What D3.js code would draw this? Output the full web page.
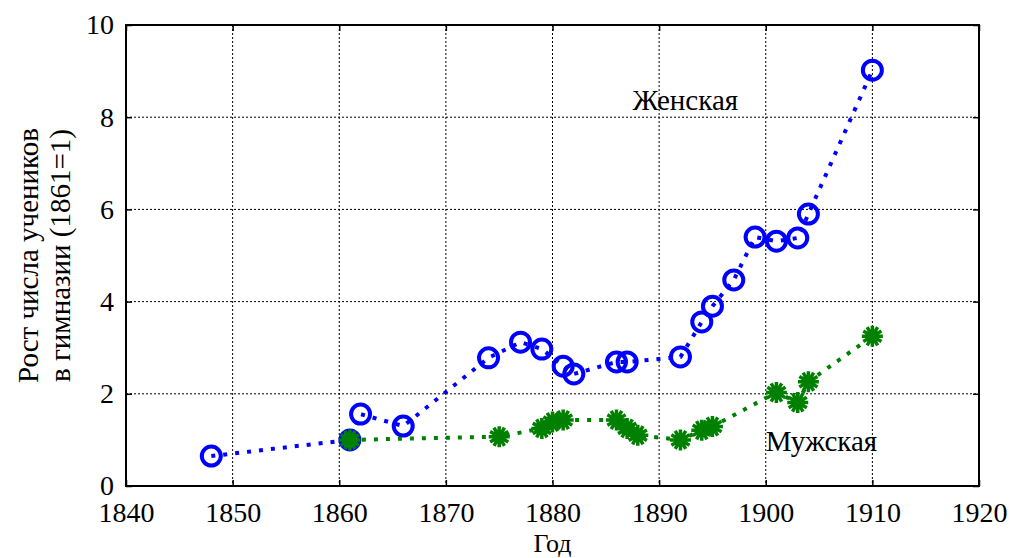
<!DOCTYPE html>
<html>
<head>
<meta charset="utf-8">
<script src="https://cdn.jsdelivr.net/npm/d3@7"></script>
<style>
  body { margin: 0; background: #fff; }
</style>
</head>
<body>
<svg id="chart" width="1011" height="558"></svg>
<script>
// Female gymnasium enrolment growth (1861 = 1)
const femaleYears  = [1848, 1861, 1862, 1866, 1874, 1877, 1879, 1881, 1882, 1886, 1887, 1892, 1894, 1895, 1897, 1899, 1901, 1903, 1904, 1910];
const femaleValues = [0.65, 1.0, 1.56, 1.3, 2.78, 3.12, 2.97, 2.6, 2.43, 2.69, 2.69, 2.8, 3.56, 3.9, 4.47, 5.4, 5.31, 5.38, 5.9, 9.02];

// Male gymnasium enrolment growth (1861 = 1)
const maleYears  = [1861, 1875, 1879, 1880, 1881, 1886, 1887, 1888, 1892, 1894, 1895, 1901, 1903, 1904, 1910];
const maleValues = [1.0, 1.07, 1.25, 1.39, 1.43, 1.43, 1.25, 1.1, 1.0, 1.21, 1.29, 2.03, 1.81, 2.26, 3.25];

const xTicks = [1840, 1850, 1860, 1870, 1880, 1890, 1900, 1910, 1920];
const yTicks = [0, 2, 4, 6, 8, 10];

const svg = d3.select("#chart");
const pL = 126, pR = 979, pT = 25, pB = 486;
const serif = "Liberation Serif, Times New Roman, DejaVu Serif, serif";

const x = d3.scaleLinear().domain([1840, 1920]).range([pL, pR]);
const y = d3.scaleLinear().domain([0, 10]).range([pB, pT]);

// grid
const grid = svg.append("g").attr("stroke", "#000").attr("stroke-width", 1).attr("stroke-dasharray", "2,2");
grid.selectAll(".gx").data(xTicks.slice(1, -1)).join("line")
  .attr("x1", d => x(d)).attr("x2", d => x(d)).attr("y1", pT).attr("y2", pB);
grid.selectAll(".gy").data(yTicks.slice(1, -1)).join("line")
  .attr("x1", pL).attr("x2", pR).attr("y1", d => y(d)).attr("y2", d => y(d));

// axes with inward ticks
const fs = "28px";
const axB = svg.append("g").attr("transform", `translate(0,${pB})`)
  .call(d3.axisBottom(x).tickValues(xTicks).tickFormat(d3.format("d")).tickSizeInner(-6).tickSizeOuter(0).tickPadding(16));
const axT = svg.append("g").attr("transform", `translate(0,${pT})`)
  .call(d3.axisTop(x).tickValues(xTicks).tickFormat("").tickSizeInner(-6).tickSizeOuter(0));
const axL = svg.append("g").attr("transform", `translate(${pL},0)`)
  .call(d3.axisLeft(y).tickValues(yTicks).tickFormat(d3.format("d")).tickSizeInner(-6).tickSizeOuter(0).tickPadding(12));
const axR = svg.append("g").attr("transform", `translate(${pR},0)`)
  .call(d3.axisRight(y).tickValues(yTicks).tickFormat("").tickSizeInner(-6).tickSizeOuter(0));
[axB, axT, axL, axR].forEach(a => {
  a.attr("font-family", null);
  a.select(".domain").remove();
  a.selectAll(".tick line").attr("stroke", "#000").attr("stroke-width", 1.5);
  a.selectAll("text").attr("font-size", fs).attr("fill", "#000").style("font-family", serif);
});

// frame
svg.append("rect").attr("x", pL).attr("y", pT).attr("width", pR - pL).attr("height", pB - pT)
  .attr("fill", "none").attr("stroke", "#000").attr("stroke-width", 2);

const line = d3.line().x(d => x(d[0])).y(d => y(d[1]));
const female = femaleYears.map((yr, i) => [yr, femaleValues[i]]);
const male = maleYears.map((yr, i) => [yr, maleValues[i]]);

// female series: dotted line with open circles
svg.append("path").datum(female).attr("d", line).attr("fill", "none")
  .attr("stroke", "#0000ff").attr("stroke-width", 4).attr("stroke-dasharray", "4,8");
svg.append("g").selectAll("circle").data(female).join("circle")
  .attr("cx", d => x(d[0])).attr("cy", d => y(d[1])).attr("r", 9.5)
  .attr("fill", "none").attr("stroke", "#0000ff").attr("stroke-width", 4);

// male series: dotted line with asterisks
svg.append("path").datum(male).attr("d", line).attr("fill", "none")
  .attr("stroke", "#008000").attr("stroke-width", 4).attr("stroke-dasharray", "4,8");
const r = 10.5;
const star = [];
for (let k = 0; k < 6; k++) {
  const a = Math.PI * k / 6;
  star.push(`M${-r * Math.cos(a)},${-r * Math.sin(a)}L${r * Math.cos(a)},${r * Math.sin(a)}`);
}
svg.append("g").selectAll("path").data(male).join("path")
  .attr("transform", d => `translate(${x(d[0])},${y(d[1])})`)
  .attr("d", star.join(""))
  .attr("stroke", "#008000").attr("stroke-width", 3.5).attr("fill", "none");
svg.append("g").selectAll("circle").data(male).join("circle")
  .attr("cx", d => x(d[0])).attr("cy", d => y(d[1])).attr("r", 5.5).attr("fill", "#008000");

// series labels
svg.append("text").attr("x", x(1887.5)).attr("y", y(8.15)).attr("font-size", "29px").style("font-family", serif).text("Женская");
svg.append("text").attr("x", x(1900)).attr("y", y(0.75)).attr("font-size", "29px").style("font-family", serif).text("Мужская");

// axis titles
svg.append("text").attr("x", (pL + pR) / 2).attr("y", 552).attr("text-anchor", "middle")
  .attr("font-size", "26px").style("font-family", serif).text("Год");
const yl = svg.append("text").attr("transform", `translate(0,${(pT + pB) / 2}) rotate(-90)`)
  .attr("text-anchor", "middle").attr("font-size", "29px").style("font-family", serif);
yl.append("tspan").attr("x", 0).attr("y", 38).text("Рост числа учеников");
yl.append("tspan").attr("x", 0).attr("y", 70).text("в гимназии (1861=1)");
</script>
</body>
</html>
